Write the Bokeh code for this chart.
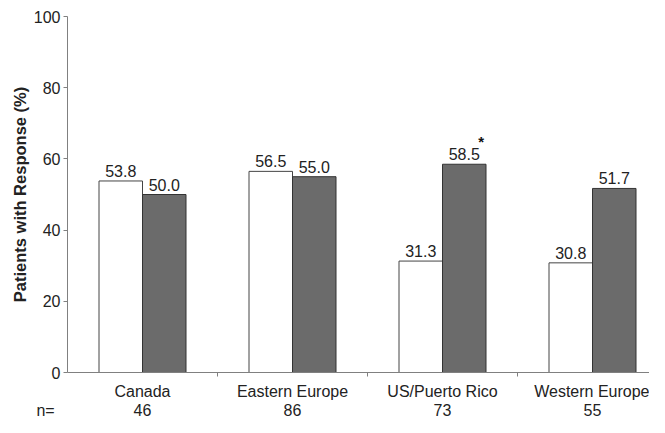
from bokeh.plotting import figure
from bokeh.models import ColumnDataSource, FixedTicker, Range1d, LinearAxis
from bokeh.embed import file_html
from bokeh.resources import INLINE
from bokeh.core.properties import value
import numpy as np

regions = ["Canada", "Eastern Europe", "US/Puerto Rico", "Western Europe"]
n_patients = ["46", "86", "73", "55"]
series_a = [53.8, 56.5, 31.3, 30.8]   # white bars
series_b = [50.0, 55.0, 58.5, 51.7]   # dark bars
marks_b = ["", "", "*", ""]
y_ticks = [0, 20, 40, 60, 80, 100]

FONT = "Liberation Sans"
TXT = "#222222"
idx = np.arange(len(regions))
bw = 0.29
PXU = 3.56      # pixels per y unit
PXX = 150.0     # pixels per category
AX = 67         # y axis position (px from left of figure)
TOP = 16        # y=100 position (px from top of figure)
W, H = 649, 417
Y0 = TOP + 100 * PXU

p = figure(width=W, height=H, output_backend="svg", toolbar_location=None,
           x_range=Range1d(-AX / PXX, (W - AX) / PXX),
           y_range=Range1d(-(H - Y0) / PXU, 100 + TOP / PXU),
           x_axis_location=None, y_axis_location=None,
           min_border_left=0, min_border_right=0, min_border_top=0, min_border_bottom=0)
p.outline_line_color = None
p.grid.grid_line_color = None
p.background_fill_color = "white"

src_a = ColumnDataSource(dict(x=idx + 0.5 - bw / 2, top=series_a,
                              lab=[f"{v:.1f}" for v in series_a]))
src_b = ColumnDataSource(dict(x=idx + 0.5 + bw / 2, top=series_b,
                              lab=[f"{v:.1f}" for v in series_b], mk=marks_b))

p.vbar(x="x", top="top", width=bw, bottom=0, source=src_a,
       fill_color="white", line_color="#444444", line_width=1)
p.vbar(x="x", top="top", width=bw, bottom=0, source=src_b,
       fill_color="#6b6b6b", line_color="#333333", line_width=1)

for s in (src_a, src_b):
    p.text(x="x", y="top", text="lab", source=s, text_align="center",
           text_baseline="alphabetic", y_offset=-10, text_font=value(FONT),
           text_font_size="16px", text_color=TXT)
p.text(x="x", y="top", text="mk", source=src_b, text_align="left",
       text_baseline="alphabetic", x_offset=14, y_offset=-23, text_font=value(FONT),
       text_font_size="15px", text_font_style="bold", text_color="#111111")

# y axis at x = 0
ya = LinearAxis(fixed_location=0, bounds=(0, 100))
ya.ticker = FixedTicker(ticks=y_ticks)
ya.major_label_text_font = FONT
ya.major_label_text_font_size = "16px"
ya.major_label_text_color = TXT
ya.major_label_standoff = 3
ya.major_tick_in = 0
ya.major_tick_out = 4
ya.minor_tick_line_color = None
ya.axis_line_color = "#808080"
ya.major_tick_line_color = "#808080"
p.add_layout(ya, "left")

# x axis at y = 0
xa = LinearAxis(fixed_location=0, bounds=(0, (W - AX) / PXX))
xa.ticker = FixedTicker(ticks=list(idx + 0.5), minor_ticks=list(idx[1:]))
xa.major_label_overrides = {float(i + 0.5): r for i, r in zip(idx, regions)}
xa.major_label_text_font = FONT
xa.major_label_text_font_size = "16px"
xa.major_label_text_color = TXT
xa.major_label_standoff = 6
xa.major_tick_in = 0
xa.major_tick_out = 0
xa.minor_tick_in = 0
xa.minor_tick_out = 4
xa.minor_tick_line_color = "#808080"
xa.axis_line_color = "#808080"
p.add_layout(xa, "below")

# n row as a second, line-less axis
N_X = -22 / PXX
na = LinearAxis(fixed_location=-(401 - Y0) / PXU, bounds=(-0.44, (W - AX) / PXX - 0.01))
na.ticker = FixedTicker(ticks=[N_X] + list(idx + 0.5), minor_ticks=[])
ovr = {float(N_X): "n="}
ovr.update({float(i + 0.5): t for i, t in zip(idx, n_patients)})
na.major_label_overrides = ovr
na.major_label_text_font = FONT
na.major_label_text_font_size = "16px"
na.major_label_text_color = TXT
na.major_label_standoff = 0
na.major_tick_in = 0
na.major_tick_out = 0
na.major_tick_line_color = None
na.minor_tick_line_color = None
na.axis_line_color = None
p.add_layout(na, "below")

# y axis title
p.text(x=[-48 / PXX], y=[50], text=["Patients with Response (%)"], angle=np.pi / 2,
       text_align="center", text_baseline="middle", text_font=value(FONT),
       text_font_style="bold", text_font_size="16.5px", text_color=TXT)

open("out.html", "w").write(file_html(p, INLINE))
